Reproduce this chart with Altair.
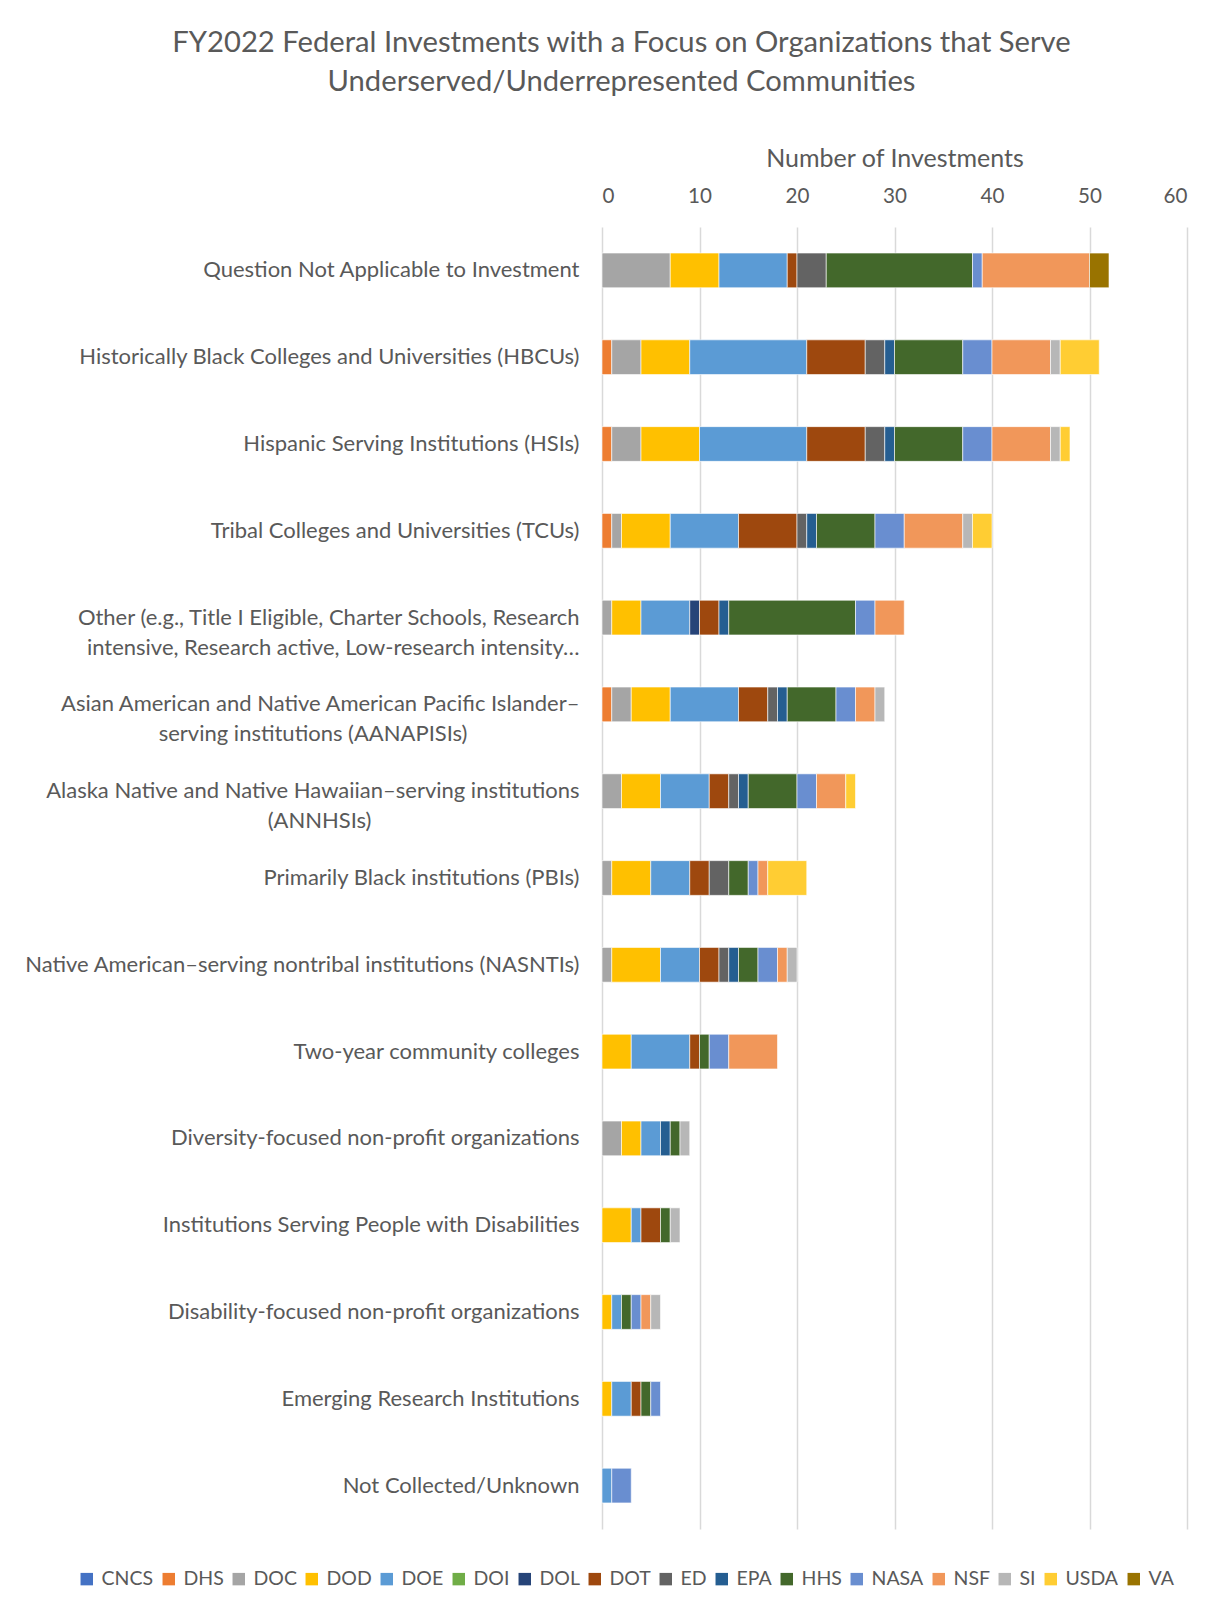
import altair as alt
import pandas as pd

agencies = ["CNCS", "DHS", "DOC", "DOD", "DOE", "DOI", "DOL", "DOT", "ED", "EPA",
            "HHS", "NASA", "NSF", "SI", "USDA", "VA"]
colors = ["#4472C4", "#ED7D31", "#A5A5A5", "#FFC000", "#5B9BD5", "#70AD47", "#264478",
          "#9E480E", "#636363", "#255E91", "#43682B", "#698ED0", "#F1975A", "#B7B7B7",
          "#FFCD33", "#997300"]

BL = "\u2800"
categories = [
    "Question Not Applicable to Investment",
    "Historically Black Colleges and Universities (HBCUs)",
    "Hispanic Serving Institutions (HSIs)",
    "Tribal Colleges and Universities (TCUs)",
    "Other (e.g., Title I Eligible, Charter Schools, Research|intensive, Research active, Low-research intensity…",
    "Asian American and Native American Pacific Islander–|serving institutions (AANAPISIs)" + BL * 7,
    "Alaska Native and Native Hawaiian–serving institutions|(ANNHSIs)" + BL * 13,
    "Primarily Black institutions (PBIs)",
    "Native American–serving nontribal institutions (NASNTIs)",
    "Two-year community colleges",
    "Diversity-focused non-profit organizations",
    "Institutions Serving People with Disabilities",
    "Disability-focused non-profit organizations",
    "Emerging Research Institutions",
    "Not Collected/Unknown",
]

CNCS = [0, 0, 0, 0, 0, 0, 0, 0, 0, 0, 0, 0, 0, 0, 0]
DHS = [0, 1, 1, 1, 0, 1, 0, 0, 0, 0, 0, 0, 0, 0, 0]
DOC = [7, 3, 3, 1, 1, 2, 2, 1, 1, 0, 2, 0, 0, 0, 0]
DOD = [5, 5, 6, 5, 3, 4, 4, 4, 5, 3, 2, 3, 1, 1, 0]
DOE = [7, 12, 11, 7, 5, 7, 5, 4, 4, 6, 2, 1, 1, 2, 1]
DOI = [0, 0, 0, 0, 0, 0, 0, 0, 0, 0, 0, 0, 0, 0, 0]
DOL = [0, 0, 0, 0, 1, 0, 0, 0, 0, 0, 0, 0, 0, 0, 0]
DOT = [1, 6, 6, 6, 2, 3, 2, 2, 2, 1, 0, 2, 0, 1, 0]
ED = [3, 2, 2, 1, 0, 1, 1, 2, 1, 0, 0, 0, 0, 0, 0]
EPA = [0, 1, 1, 1, 1, 1, 1, 0, 1, 0, 1, 0, 0, 0, 0]
HHS = [15, 7, 7, 6, 13, 5, 5, 2, 2, 1, 1, 1, 1, 1, 0]
NASA = [1, 3, 3, 3, 2, 2, 2, 1, 2, 2, 0, 0, 1, 1, 2]
NSF = [11, 6, 6, 6, 3, 2, 3, 1, 1, 5, 0, 0, 1, 0, 0]
SI = [0, 1, 1, 1, 0, 1, 0, 0, 1, 0, 1, 1, 1, 0, 0]
USDA = [0, 4, 1, 2, 0, 0, 1, 4, 0, 0, 0, 0, 0, 0, 0]
VA = [2, 0, 0, 0, 0, 0, 0, 0, 0, 0, 0, 0, 0, 0, 0]

series = {"CNCS": CNCS, "DHS": DHS, "DOC": DOC, "DOD": DOD, "DOE": DOE, "DOI": DOI,
          "DOL": DOL, "DOT": DOT, "ED": ED, "EPA": EPA, "HHS": HHS, "NASA": NASA,
          "NSF": NSF, "SI": SI, "USDA": USDA, "VA": VA}

rows = []
for ai, ag in enumerate(agencies):
    for ci, cat in enumerate(categories):
        v = series[ag][ci]
        if v > 0:
            rows.append({"Category": cat, "Agency": ag, "Value": v, "ord": ai})
df = pd.DataFrame(rows)

FONT = "Lato"
GREY = "#595959"

chart = alt.Chart(df).mark_bar(stroke="white", strokeWidth=0.6).encode(
    x=alt.X("sum(Value):Q",
            scale=alt.Scale(domain=[0, 60], nice=False),
            axis=alt.Axis(orient="top", values=[0, 10, 20, 30, 40, 50, 60],
                          title="Number of Investments", titleFontSize=25,
                          titleFontWeight="normal", titleColor=GREY, titlePadding=15,
                          labelFontSize=20.6, labelColor=GREY, labelPadding=21,
                          grid=True, gridColor="#D9D9D9", gridWidth=1.5,
                          ticks=False, domain=False, labelFont=FONT, titleFont=FONT)),
    y=alt.Y("Category:N", sort=categories,
            scale=alt.Scale(paddingInner=0.6, paddingOuter=0.3),
            axis=alt.Axis(title=None, labelExpr="split(datum.label, '|')",
                          labelFontSize=22, labelColor=GREY, labelPadding=23,
                          labelLimit=700, ticks=False, domain=False,
                          labelFont=FONT, labelLineHeight=30)),
    color=alt.Color("Agency:N",
                    scale=alt.Scale(domain=agencies, range=colors),
                    legend=alt.Legend(orient="none", legendX=-525, legendY=1342,
                                      direction="horizontal",
                                      columns=16, title=None, symbolType="square",
                                      symbolSize=155, symbolStrokeWidth=0,
                                      labelFontSize=19.5, labelColor=GREY, labelFont=FONT,
                                      labelOffset=5, columnPadding=5)),
    order=alt.Order("ord:Q"),
).properties(
    width=585,
    height=1302,
    title=alt.TitleParams(
        ["FY2022 Federal Investments with a Focus on Organizations that Serve",
         "Underserved/Underrepresented Communities"],
        fontSize=29.2, font=FONT, color=GREY, fontWeight="normal",
        anchor="middle", frame="bounds", lineHeight=39, offset=49, dx=16),
    padding={"left": 16, "top": 20, "right": 4, "bottom": 2},
).configure_view(stroke=None)

chart.save("out.html", embed_options={"renderer": "svg", "actions": False})
